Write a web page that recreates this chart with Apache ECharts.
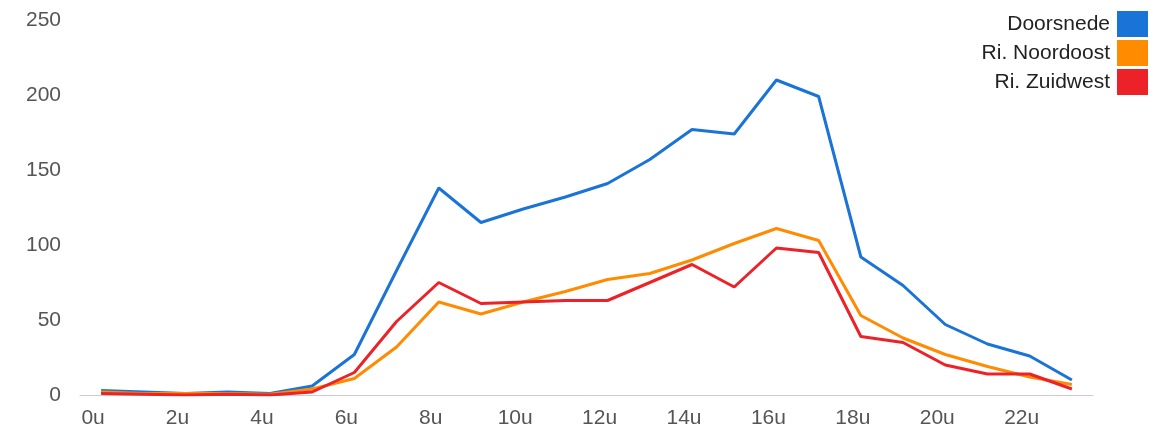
<!DOCTYPE html>
<html>
<head>
<meta charset="utf-8">
<title>Doorsnede per uur</title>
<script src="https://cdn.jsdelivr.net/npm/echarts@6/dist/echarts.min.js"></script>
<style>
  html, body { margin: 0; padding: 0; background: #fff; }
  #main { width: 1162px; height: 432px; }
</style>
</head>
<body>
<div id="main"></div>
<script>
// uren 0u..23u
var hours = ['0u','1u','2u','3u','4u','5u','6u','7u','8u','9u','10u','11u',
             '12u','13u','14u','15u','16u','17u','18u','19u','20u','21u','22u','23u'];
var doorsnede  = [3, 2, 1, 2, 1, 6, 27, 83, 138, 115, 124, 132, 141, 157, 177, 174, 210, 199, 92, 73, 47, 34, 26, 10];
var noordoost  = [2, 1, 1, 1, 0.5, 4, 11, 32, 62, 54, 62, 69, 77, 81, 90, 101, 111, 103, 53, 38, 27, 19, 12, 7];
var zuidwest   = [1, 0.5, 0, 0.5, 0, 2, 15, 49, 75, 61, 62, 63, 63, 75, 87, 72, 98, 95, 39, 35, 20, 14, 14, 4];
var yTicks = { min: 0, max: 250, step: 50 };

var font = '"Liberation Sans", Arial, sans-serif';
var chart = echarts.init(document.getElementById('main'));

function lineSerie(name, data, color) {
  return {
    name: name,
    type: 'line',
    data: data,
    showSymbol: false,
    symbol: 'none',
    lineStyle: { width: 3, color: color },
    itemStyle: { color: color },
    emphasis: { disabled: true }
  };
}

var option = {
  animation: false,
  textStyle: { fontFamily: font },
  grid: { left: 80, right: 69, top: 20, bottom: 37 },
  legend: {
    orient: 'vertical',
    right: 14,
    top: 11,
    align: 'right',
    icon: 'rect',
    itemWidth: 31,
    itemHeight: 26,
    itemGap: 3,
    padding: 0,
    textStyle: { fontSize: 21, color: '#222', fontFamily: font, padding: [0, 2, 0, 0] },
    data: ['Doorsnede', 'Ri. Noordoost', 'Ri. Zuidwest']
  },
  xAxis: {
    type: 'category',
    data: hours,
    boundaryGap: true,
    axisLine: { lineStyle: { color: '#cccccc', width: 1 } },
    axisTick: { show: false },
    axisLabel: {
      interval: 1,
      margin: 13,
      fontSize: 21,
      color: '#555',
      fontFamily: font,
      padding: [0, 16, 0, 0]
    },
    splitLine: { show: false }
  },
  yAxis: {
    type: 'value',
    min: yTicks.min,
    max: yTicks.max,
    interval: yTicks.step,
    axisLine: { show: false },
    axisTick: { show: false },
    axisLabel: { margin: 19, fontSize: 21, color: '#555', fontFamily: font },
    splitLine: { show: false }
  },
  series: [
    lineSerie('Doorsnede', doorsnede, '#1a74d8'),
    lineSerie('Ri. Noordoost', noordoost, '#ff8b00'),
    lineSerie('Ri. Zuidwest', zuidwest, '#ec2228')
  ]
};
chart.setOption(option);
</script>
</body>
</html>
